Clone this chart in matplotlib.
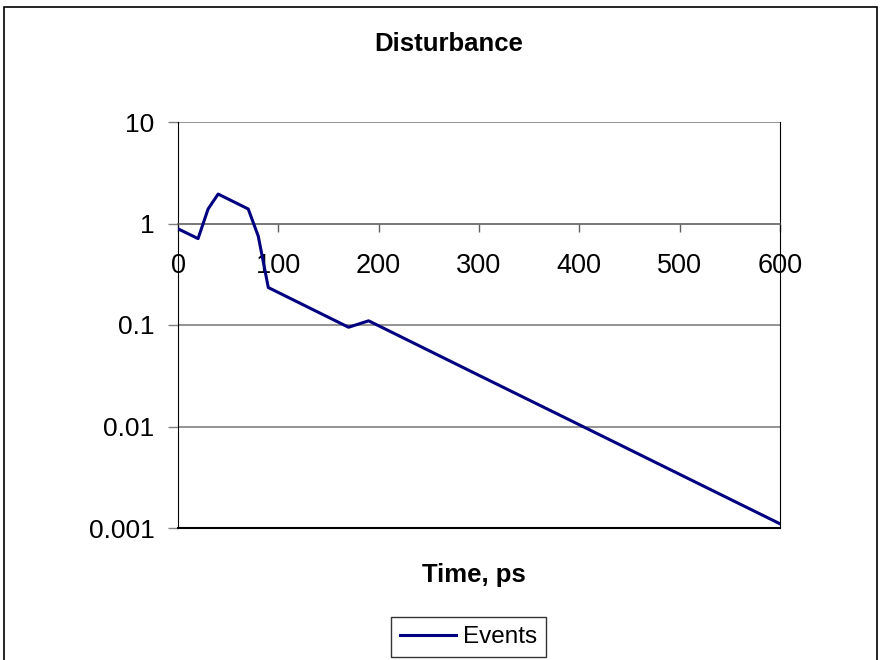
import numpy as np
import matplotlib.pyplot as plt
from matplotlib.patches import Rectangle

plt.rcParams['font.family'] = ['Liberation Sans', 'DejaVu Sans']

# Data
time_ps = [0, 20, 30, 40, 70, 80, 90, 170, 190, 300, 400, 500, 600]
events = [0.887, 0.71, 1.39, 1.95, 1.39, 0.75, 0.234, 0.095, 0.110,
          0.0319, 0.0104, 0.00338, 0.0011]

x_ticks = [0, 100, 200, 300, 400, 500, 600]
y_ticks = [0.001, 0.01, 0.1, 1, 10]
y_labels = ["0.001", "0.01", "0.1", "1", "10"]

fig = plt.figure(figsize=(8.82, 6.6), dpi=100)
ax = fig.add_axes([178 / 882, 1 - 528 / 660, (780 - 178) / 882, (528 - 122) / 660])

# outer chart frame
fig.patches.append(Rectangle((4 / 882, -0.05), 873 / 882, 1 - 7 / 660 + 0.05,
                             transform=fig.transFigure, fill=False,
                             edgecolor="black", linewidth=1.2))

ax.plot(time_ps, events, color="#000080", linewidth=2.2, label="Events", zorder=3)

ax.set_yscale("log")
ax.set_ylim(0.001, 10)
ax.set_xlim(0, 600)

# horizontal gridlines
for v in [0.01, 0.1, 10]:
    ax.axhline(v, color="#808080", linewidth=1.2, zorder=1)

# x axis crosses at y=1
ax.spines['bottom'].set_position(('data', 1))
ax.spines['bottom'].set_color("#606060")
ax.spines['bottom'].set_linewidth(1.2)
ax.axhline(0.001, color="black", linewidth=1.5, clip_on=False, zorder=4)
ax.spines['top'].set_visible(False)
ax.spines['right'].set_color("black")
ax.spines['left'].set_color("black")

ax.set_xticks(x_ticks)
ax.set_xticklabels([str(t) for t in x_ticks])
ax.set_yticks(y_ticks)
ax.set_yticklabels(y_labels)
ax.yaxis.set_minor_locator(plt.NullLocator())
ax.tick_params(axis='x', direction='out', length=6, width=1, color="#606060",
               labelsize=19.5, pad=15)
ax.tick_params(axis='y', direction='out', length=7, width=1, color="#808080",
               labelsize=19, pad=10)

fig.text(449 / 882, 1 - 44 / 660, "Disturbance", ha="center", va="center",
         fontsize=18.5, fontweight="bold")
fig.text(474 / 882, 1 - 575 / 660, "Time, ps", ha="center", va="center",
         fontsize=18.5, fontweight="bold")

leg = fig.legend(loc="center", bbox_to_anchor=(468.5 / 882, 1 - 637 / 660),
                 fontsize=17.5, frameon=True, fancybox=False, edgecolor="black",
                 handlelength=2.3, handletextpad=0.3, borderpad=0.35)
leg.get_frame().set_linewidth(1.0)

fig.savefig("out.png", dpi=100)
